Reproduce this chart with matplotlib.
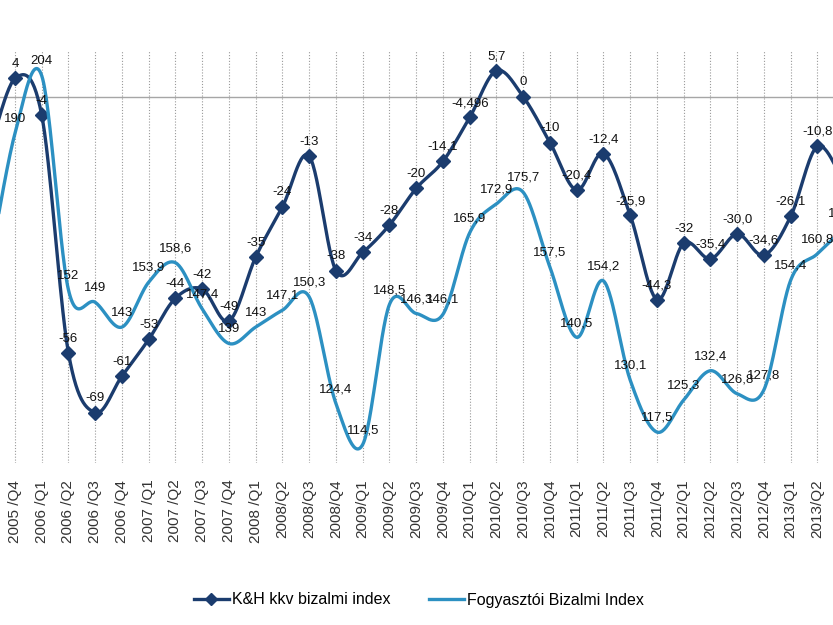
import numpy as np
import matplotlib
matplotlib.use("Agg")
import matplotlib.pyplot as plt
from matplotlib.lines import Line2D

plt.rcParams['font.family'] = ['Liberation Sans', 'DejaVu Sans']

# quarters (first and last ones are cut off at the image edges)
quarters = ["2005/Q3", "2005 /Q4", "2006 /Q1", "2006 /Q2", "2006 /Q3", "2006 /Q4",
            "2007 /Q1", "2007 /Q2", "2007 /Q3", "2007 /Q4", "2008 /Q1", "2008/Q2",
            "2008/Q3", "2008/Q4", "2009/Q1", "2009/Q2", "2009/Q3", "2009/Q4",
            "2010/Q1", "2010/Q2", "2010/Q3", "2010/Q4", "2011/Q1", "2011/Q2",
            "2011/Q3", "2011/Q4", "2012/Q1", "2012/Q2", "2012/Q3", "2012/Q4",
            "2013/Q1", "2013/Q2", "2013/Q3"]

kh_index = [-13, 4, -4, -56, -69, -61, -53, -44, -42, -49, -35, -24, -13, -38, -34,
            -28, -20, -14.1, -4.496, 5.7, 0, -10, -20.4, -12.4, -25.9, -44.3, -32,
            -35.4, -30.0, -34.6, -26.1, -10.8, -19]
kh_labels = ["", "4", "-4", "-56", "-69", "-61", "-53", "-44", "-42", "-49", "-35",
             "-24", "-13", "-38", "-34", "-28", "-20", "-14,1", "-4,496", "5,7", "0",
             "-10", "-20,4", "-12,4", "-25,9", "-44,3", "-32", "-35,4", "-30,0",
             "-34,6", "-26,1", "-10,8", ""]

fogy_index = [156, 190, 204, 152, 149, 143, 153.9, 158.6, 147.4, 139, 143, 147.1,
              150.3, 124.4, 114.5, 148.5, 146.3, 146.1, 165.9, 172.9, 175.7, 157.5,
              140.5, 154.2, 130.1, 117.5, 125.3, 132.4, 126.8, 127.8, 154.4, 160.8, 167]
fogy_labels = ["", "190", "204", "152", "149", "143", "153,9", "158,6", "147,4", "139",
               "143", "147,1", "150,3", "124,4", "114,5", "148,5", "146,3", "146,1",
               "165,9", "172,9", "175,7", "157,5", "140,5", "154,2", "130,1", "117,5",
               "125,3", "132,4", "126,8", "127,8", "154,4", "160,8", "167,3"]

dark = '#1B3C6E'
light = '#2C90C2'


def smooth(x, y, steps=30):
    # excel-like smoothed line (bezier through points, catmull-rom tangents)
    x = np.asarray(x, float)
    y = np.asarray(y, float)
    px = np.concatenate([[x[0]], x, [x[-1]]])
    py = np.concatenate([[y[0]], y, [y[-1]]])
    t = np.linspace(0, 1, steps)[:, None]
    xs, ys = [], []
    for i in range(1, len(px) - 2):
        p0x, p0y = px[i], py[i]
        p3x, p3y = px[i + 1], py[i + 1]
        b1x = p0x + (px[i + 1] - px[i - 1]) / 6
        b1y = p0y + (py[i + 1] - py[i - 1]) / 6
        b2x = p3x - (px[i + 2] - px[i]) / 6
        b2y = p3y - (py[i + 2] - py[i]) / 6
        c = [(1 - t) ** 3, 3 * (1 - t) ** 2 * t, 3 * (1 - t) * t ** 2, t ** 3]
        xs.append((c[0] * p0x + c[1] * b1x + c[2] * b2x + c[3] * p3x).ravel())
        ys.append((c[0] * p0y + c[1] * b1y + c[2] * b2y + c[3] * p3y).ravel())
    return np.concatenate(xs), np.concatenate(ys)


pos = np.arange(len(quarters)) - 1

fig = plt.figure(figsize=(8.33, 6.25), dpi=100)
ax = fig.add_axes([0, 1 - 463 / 625, 1, 412 / 625])
ax2 = ax.twinx()

for a in (ax, ax2):
    for s in a.spines.values():
        s.set_visible(False)
    a.tick_params(left=False, right=False, labelleft=False, labelright=False)

ax.set_xticks(pos)
ax.set_xticklabels(quarters, rotation=90, fontsize=11, color='#333333')
ax.tick_params(axis='x', length=0, pad=12)
ax.xaxis.grid(True, color='#9a9a9a', linestyle=(0, (1, 1.6)), linewidth=0.8)
ax.axhline(0, color='#a6a6a6', linewidth=1.0, zorder=1)

sx, sy = smooth(pos, kh_index)
ax.plot(sx, sy, color=dark, linewidth=2.4, zorder=3)
ax.plot(pos, kh_index, linestyle='none', marker='D', markersize=7,
        color=dark, zorder=4)

fx, fy = smooth(pos, fogy_index)
ax2.plot(fx, fy, color=light, linewidth=2.4, zorder=3)

# limits after plotting (twin axes share x and would autoscale it)
ax.set_xlim(-0.56, 30.58)
ax.set_ylim(-80, 10)
ax2.set_ylim(110, 210)

for xi, v, lab in zip(pos, kh_index, kh_labels):
    ax2.annotate(lab, (xi, v), xycoords=ax.transData, xytext=(0, 6),
                 textcoords='offset points', ha='center', va='bottom',
                 fontsize=9.5, color='#111111', zorder=6, annotation_clip=False)
for xi, v, lab in zip(pos, fogy_index, fogy_labels):
    ax2.annotate(lab, (xi, v), xytext=(0, 6), textcoords='offset points',
                 ha='center', va='bottom', fontsize=9.5, color='#111111',
                 zorder=6, annotation_clip=False)

handles = [Line2D([], [], color=dark, linewidth=2.4, marker='D', markersize=6),
           Line2D([], [], color=light, linewidth=2.4)]
fig.legend(handles, ["K&H kkv bizalmi index", "Fogyasztói Bizalmi Index"],
           loc='center', bbox_to_anchor=(0.503, 1 - 600 / 625), ncol=2,
           frameon=False, fontsize=11.5, handlelength=2.2, handletextpad=0.2,
           columnspacing=2.4)

plt.savefig('out.png', dpi=100)
